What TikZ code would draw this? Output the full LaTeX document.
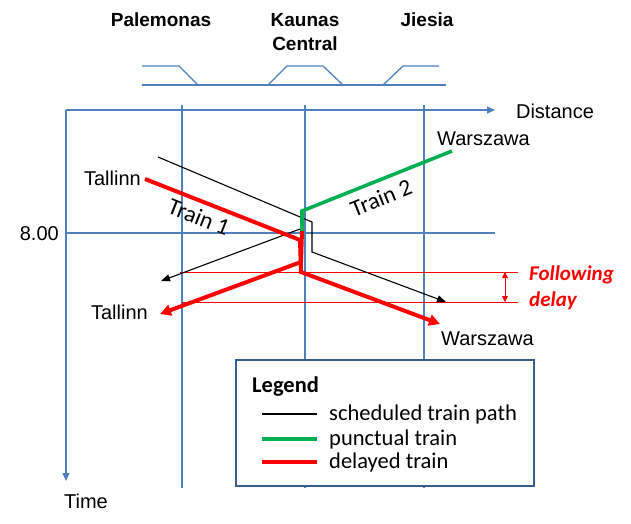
\documentclass[tikz,border=0pt]{standalone}
\usepackage{fontspec}
\setmainfont{Liberation Sans}
\newfontfamily\calib{Carlito}
\usetikzlibrary{arrows.meta,positioning}
\definecolor{axisblue}{RGB}{79,129,189}
\definecolor{boxblue}{RGB}{56,93,138}
\definecolor{trgreen}{RGB}{0,176,80}

\begin{document}
\begin{tikzpicture}[x=1pt,y=-1pt,
  grid/.style={draw=axisblue, line width=1.3pt},
  axis/.style={grid, -{Triangle[length=8pt,width=7pt]}},
  stname/.style={font=\fontsize{19}{21}\selectfont\bfseries, anchor=base, inner sep=0pt},
  lbl/.style={font=\fontsize{20}{22}\selectfont, anchor=base, inner sep=0pt},
  trainlbl/.style={font=\calib\fontsize{23.5}{26}\selectfont, inner sep=0pt},
  sched/.style={draw=black, line width=1.1pt},
  schedarr/.style={sched, -{Triangle[length=9pt,width=7pt]}},
  punct/.style={draw=trgreen, line width=3.6pt},
  delayed/.style={draw=red, line width=4pt},
  delayedarr/.style={delayed, -{Triangle[length=11pt,width=11pt]}},
  delayline/.style={draw=red, line width=0.9pt},
  legendbox/.style={draw=boxblue, line width=2pt, fill=white},
  legtxt/.style={font=\calib\fontsize{22.5}{25}\selectfont, anchor=base west, inner sep=0pt},
]
\useasboundingbox (0,0) rectangle (631,523);

% --- station names over the track plan ---
\node[stname] (palemonas) at (161,26) {Palemonas};
\node[stname] (kaunas) at (305,26) {Kaunas};
\node[stname] (central) at (305,50) {Central};
\node[stname] (jiesia) at (427,26) {Jiesia};

% --- track plan: main line plus the three sidings ---
\def\yMain{85}\def\ySide{66}
\draw[grid] (142,\yMain) -- (446,\yMain);
\draw[grid] (142,\ySide) -- (179,\ySide) -- (198,\yMain);
\draw[grid] (268,\yMain) -- (287,\ySide) -- (323,\ySide) -- (343,\yMain);
\draw[grid] (383,\yMain) -- (403,\ySide) -- (439,\ySide);

% --- axes and grid ---
\coordinate (origin) at (66,110);
\coordinate (distEnd) at (495,110);
\coordinate (timeEnd) at (66,481);
\draw[axis] (origin) -- (distEnd);
\draw[axis] (origin) -- (timeEnd);
\node[lbl] (distance) at (555,118) {Distance};
\node[lbl] (time) at (86,508) {Time};

\coordinate (eightL) at (66,233);
\coordinate (eightR) at (495,233);
\draw[grid] (eightL) -- (eightR);
\node[lbl, anchor=base east] (eight) at (59,240) {8.00};

% station columns
\foreach \sx/\sn in {182/pal, 305/kau, 424/jie}{
  \coordinate (\sn top) at (\sx,105);
  \coordinate (\sn bot) at (\sx,488);
  \draw[grid] (\sn top) -- (\sn bot);
}

% --- following delay marks ---
\coordinate (fdA) at (180,272);
\coordinate (fdB) at (518,272);
\coordinate (fdC) at (182,302);
\coordinate (fdD) at (518,302);
\draw[delayline] (fdA) -- (fdB);
\draw[delayline] (fdC) -- (fdD);
\coordinate (gapTop) at (505,272);
\coordinate (gapBot) at (505,302);
\draw[delayline, {Triangle[length=6pt,width=6pt]}-{Triangle[length=6pt,width=6pt]}] (gapTop) -- (gapBot);
\node[font=\calib\fontsize{21}{24}\selectfont\bfseries\itshape, text=red, anchor=base west, inner sep=0pt] (following) at (529,280) {Following};
\node[font=\calib\fontsize{21}{24}\selectfont\bfseries\itshape, text=red, anchor=base west, inner sep=0pt] (delay) at (529,306) {delay};

% --- scheduled paths (black) ---
\coordinate (s1a) at (158,157);
\coordinate (s1b) at (312,222);
\coordinate (s1c) at (312,252);
\coordinate (s1d) at (446,302);
\draw[schedarr] (s1a) -- (s1b) -- (s1c) -- (s1d);
\coordinate (s2a) at (300,229);
\coordinate (s2b) at (161,281);
\draw[schedarr] (s2a) -- (s2b);

% --- train 2: punctual up to Kaunas, then delayed ---
\coordinate (t2a) at (452,151);
\coordinate (t2b) at (302,211);
\coordinate (t2c) at (302,231);
\coordinate (t2d) at (301,262);
\coordinate (t2e) at (160,314);
\draw[punct] (t2a) -- (t2b) -- (t2c);
\draw[delayedarr] (t2c) -- (t2d) -- (t2e);

% --- train 1: delayed from Tallinn ---
\coordinate (t1a) at (145,179);
\coordinate (t1b) at (300,240);
\coordinate (t1c) at (301,272);
\coordinate (t1d) at (440,324);
\draw[delayedarr] (t1a) -- (t1b) -- (t1c) -- (t1d);

% --- end points ---
\node[lbl, anchor=base east] (tallinnA) at (141,185) {Tallinn};
\node[lbl, anchor=base east] (tallinnB) at (148,319) {Tallinn};
\node[lbl, anchor=base west] (warszawaA) at (437,145) {Warszawa};
\node[lbl, anchor=base west] (warszawaB) at (441,345) {Warszawa};
\node[trainlbl, rotate=-21.5] (train1) at (199,217) {Train 1};
\node[trainlbl, rotate=21.8] (train2) at (381,198) {Train 2};

% --- legend ---
\node[legendbox, minimum width=298pt, minimum height=126pt, anchor=north west, inner sep=0pt] (legend) at (235,359) {};
\node[legtxt, font=\calib\fontsize{22.5}{25}\selectfont\bfseries] (legtitle) at (252,392) {Legend};
\foreach \ly/\lsty/\ltxt/\lname in {414/sched/scheduled train path/lsched, 439/punct/punctual train/lpunct, 462/delayed/delayed train/ldel}{
  \coordinate (\lname A) at (262,\ly);
  \coordinate (\lname B) at (317,\ly);
  \draw[\lsty] (\lname A) -- (\lname B);
  \node[legtxt, anchor=west] (\lname txt) at (329,\ly) {\ltxt};
}
\end{tikzpicture}
\end{document}
